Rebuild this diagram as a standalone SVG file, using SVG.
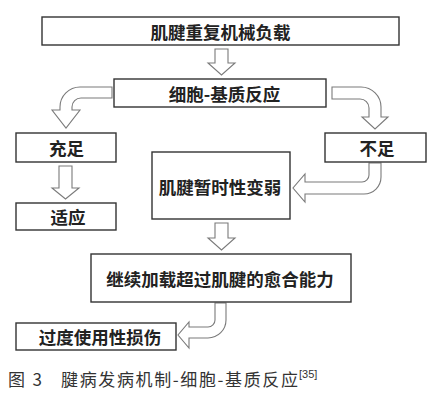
<svg xmlns="http://www.w3.org/2000/svg" width="444" height="405" viewBox="0 0 444 405">
<style>
.box{fill:#fff;stroke:#333;stroke-width:1.4}
.arr{fill:#fff;stroke:#7a7a7a;stroke-width:1.1;stroke-linejoin:miter}
.t{font-family:"Noto Sans CJK SC","Noto Sans",sans-serif;font-weight:bold;font-size:17.5px;fill:#222;text-anchor:middle;dominant-baseline:central}
.cap{font-family:"Noto Sans CJK SC","Noto Sans",sans-serif;font-size:17px;fill:#333}
.sup{font-family:"Liberation Sans","Noto Sans",sans-serif;font-size:11px;fill:#333}
</style>
<rect width="444" height="405" fill="#fff"/>
<g id="connectors">
<path class="arr" d="M215,49 H228 V63 H235 L221.5,75 L208,63 H215 Z"/>
<path class="arr" d="M112,87 H80 A20,20 0 0 0 60,107 V110 H52 L66,128 L80,110 H72 V107 A9,9 0 0 1 81,98 H112 Z"/>
<path class="arr" d="M332,87 H361 A20,20 0 0 1 381,107 V117 H388 L375,129 L362,117 H369 V108 A9,9 0 0 0 360,99 H332 Z"/>
<path class="arr" d="M59,166 H72 V188 H79 L65.5,199 L52,188 H59 Z"/>
<path class="arr" d="M381,163 V177 A17,17 0 0 1 364,194 H305 V202 L293,188 L305,174 V182 H362 A7,7 0 0 0 369,175 V163 Z"/>
<path class="arr" d="M215,223 H228 V238 H235 L221.5,250 L208,238 H215 Z"/>
<path class="arr" d="M226,303 V320 A18,18 0 0 1 208,338 H189 V348 L178,335 L189,322 V327 H208 A7,7 0 0 0 215,320 V303 Z"/>
</g>
<g id="n1"><rect class="box" x="42" y="17" width="357" height="28"/><text class="t" x="220.5" y="31">肌腱重复机械负载</text></g>
<g id="n2"><rect class="box" x="114" y="79" width="212" height="28"/><text class="t" x="224.5" y="93">细胞-基质反应</text></g>
<g id="n3"><rect class="box" x="16" y="133" width="100" height="29"/><text class="t" x="66.5" y="147.5">充足</text></g>
<g id="n4"><rect class="box" x="325" y="133" width="101" height="29"/><text class="t" x="377" y="147.5">不足</text></g>
<g id="n5"><rect class="box" x="152" y="152" width="138" height="67"/><text class="t" x="220" y="186">肌腱暂时性变弱</text></g>
<g id="n6"><rect class="box" x="16" y="203" width="100" height="27"/><text class="t" x="68" y="216">适应</text></g>
<g id="n7"><rect class="box" x="91" y="254" width="260" height="48"/><text class="t" x="220" y="278">继续加载超过肌腱的愈合能力</text></g>
<g id="n8"><rect class="box" x="16" y="323" width="160" height="27"/><text class="t" x="100" y="336.5">过度使用性损伤</text></g>
<g id="caption">
<text class="cap" x="8" y="386" textLength="34" lengthAdjust="spacing">图 3</text>
<text class="cap" x="61" y="386" textLength="237" lengthAdjust="spacing">腱病发病机制-细胞-基质反应</text>
<text class="sup" x="299" y="378">[35]</text>
</g>
</svg>
